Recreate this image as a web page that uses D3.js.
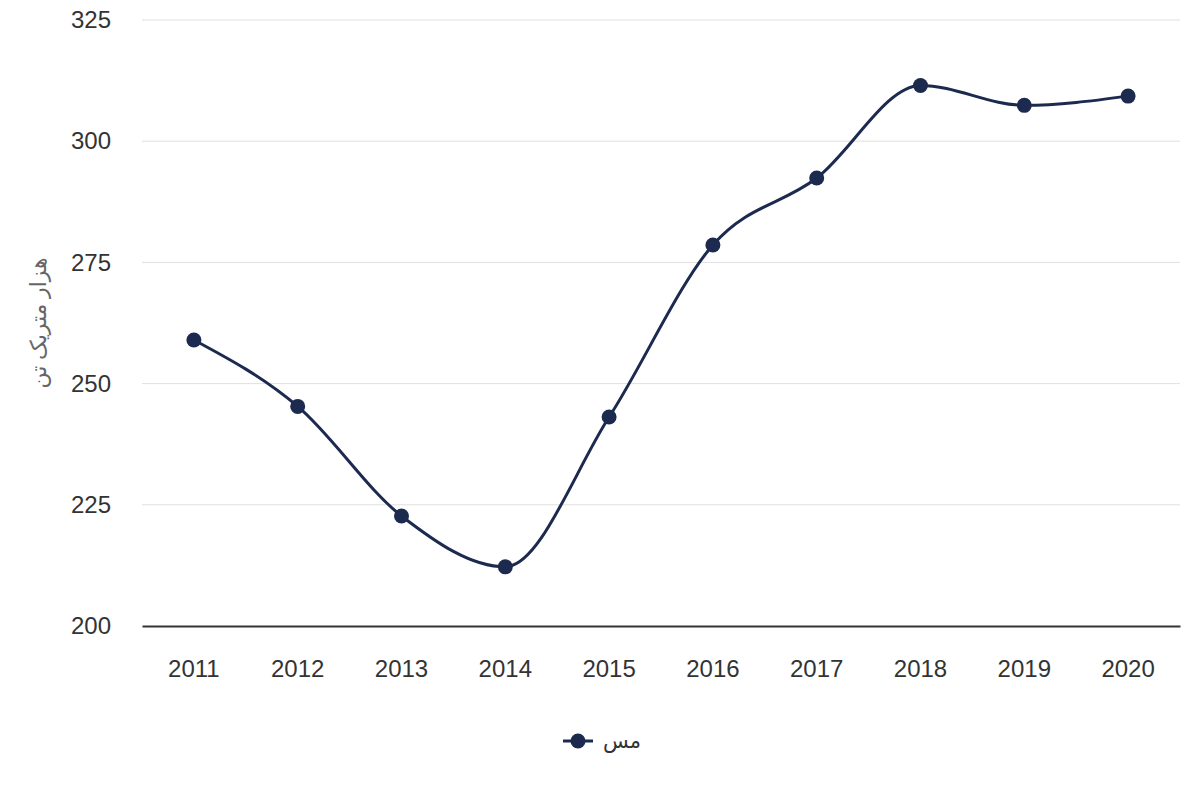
<!DOCTYPE html>
<html>
<head>
<meta charset="utf-8">
<script src="https://cdn.jsdelivr.net/npm/d3@7"></script>
<style>
  body { margin: 0; background: #fff; }
  svg { font-family: "Liberation Sans", Arial, sans-serif; }
</style>
</head>
<body>
<svg id="chart" width="1200" height="800"></svg>
<script>
// chart data
const years = ["2011", "2012", "2013", "2014", "2015", "2016", "2017", "2018", "2019", "2020"];
const copper = [259.0, 245.3, 222.7, 212.2, 243.1, 278.6, 292.4, 311.5, 307.4, 309.3];
const yTicks = [200, 225, 250, 275, 300, 325];
const seriesName = "مس";
const yLabel = "هزار متریک تن";

const width = 1200;
const height = 800;
const margin = { top: 20, left: 142, bottom: 174, right: 20 };
const lineColor = "#1b2a4e";

const svg = d3.select("#chart");

const x = d3.scaleBand()
  .domain(years)
  .range([margin.left, width - margin.right]);

const y = d3.scaleLinear()
  .domain([200, 325])
  .range([height - margin.bottom, margin.top]);

// grid lines
svg.append("g")
  .selectAll("line")
  .data(yTicks.slice(1))
  .join("line")
  .attr("x1", margin.left)
  .attr("x2", width - margin.right)
  .attr("y1", d => y(d))
  .attr("y2", d => y(d))
  .attr("stroke", "#e0e0e0")
  .attr("stroke-width", 1);

// y axis labels
const yAxis = d3.axisLeft(y).tickValues(yTicks).tickSize(0).tickPadding(31);
const gy = svg.append("g")
  .attr("transform", `translate(${margin.left},0)`)
  .call(yAxis);
gy.select(".domain").remove();
gy.selectAll("text")
  .attr("font-size", "24px")
  .attr("fill", "#333")
  .attr("font-family", "Liberation Sans, Arial, sans-serif");

// x axis
const xAxis = d3.axisBottom(x).tickSize(0).tickPadding(34);
const gx = svg.append("g")
  .attr("transform", `translate(0,${y(200)})`)
  .call(xAxis);
gx.select(".domain").attr("stroke", "#333").attr("stroke-width", 2);
gx.selectAll("text")
  .attr("font-size", "24px")
  .attr("fill", "#333")
  .attr("font-family", "Liberation Sans, Arial, sans-serif");

// y title
svg.append("text")
  .attr("transform", `translate(40,${(margin.top + height - margin.bottom) / 2}) rotate(-90)`)
  .attr("text-anchor", "middle")
  .attr("dominant-baseline", "middle")
  .attr("font-size", "22px")
  .attr("fill", "#666")
  .attr("font-family", "Noto Sans, DejaVu Sans, sans-serif")
  .text(yLabel);

// line
const line = d3.line()
  .x((d, i) => x(years[i]) + x.bandwidth() / 2)
  .y(d => y(d))
  .curve(d3.curveMonotoneX);

svg.append("path")
  .datum(copper)
  .attr("d", line)
  .attr("fill", "none")
  .attr("stroke", lineColor)
  .attr("stroke-width", 3);

svg.append("g")
  .selectAll("circle")
  .data(copper)
  .join("circle")
  .attr("cx", (d, i) => x(years[i]) + x.bandwidth() / 2)
  .attr("cy", d => y(d))
  .attr("r", 7.5)
  .attr("fill", lineColor);

// legend
const lg = svg.append("g").attr("transform", "translate(578,741)");
lg.append("line")
  .attr("x1", -15).attr("x2", 15)
  .attr("stroke", lineColor).attr("stroke-width", 3);
lg.append("circle").attr("r", 7.5).attr("fill", lineColor);
lg.append("text")
  .attr("x", 25)
  .attr("dy", "0.35em")
  .attr("font-size", "21px")
  .attr("fill", "#333")
  .attr("font-family", "Noto Sans, DejaVu Sans, sans-serif")
  .text(seriesName);
</script>
</body>
</html>
